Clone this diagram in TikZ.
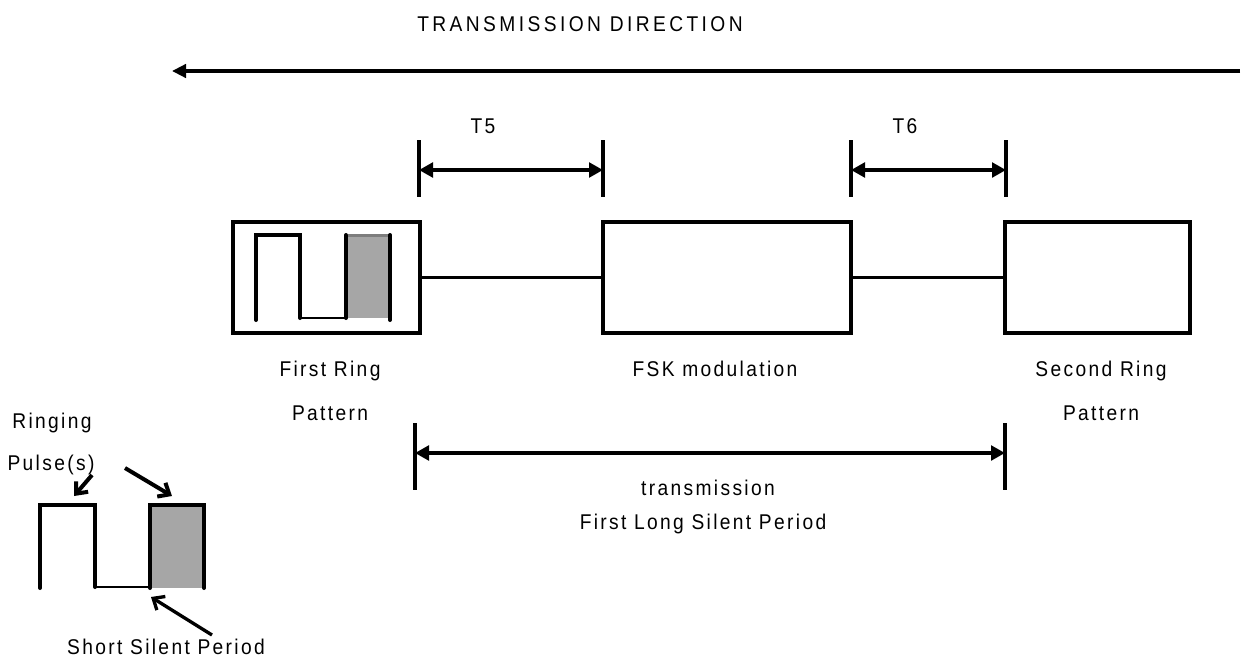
\documentclass[tikz,border=0pt]{standalone}
\usepackage{fontspec}
\setmainfont{Liberation Sans}[LetterSpace=11, FakeStretch=0.9]
\newfontfamily\titlefont{Liberation Sans}[LetterSpace=16, FakeStretch=0.9]
\usetikzlibrary{arrows.meta}
\definecolor{pulsegray}{RGB}{166,166,166}
\begin{document}
\begin{tikzpicture}[x=0.75pt,y=-0.75pt,
  lbl/.style={font=\fontsize{16}{19}\selectfont, anchor=base, inner sep=0pt},
  blk/.style={draw, line width=2.5pt, inner sep=0pt, minimum height=83.25pt},
  dimline/.style={line width=2.5pt, {Triangle[length=10.5pt,width=11pt]}-{Triangle[length=10.5pt,width=11pt]}},
  dirline/.style={line width=2.5pt, -{Triangle[length=10.5pt,width=10pt]}},
  tickline/.style={line width=2.5pt},
  link/.style={line width=2pt},
  pulse/.style={line width=3pt, line cap=round},
  pulselow/.style={line width=2pt},
  pointer/.style={line width=3pt, -{Straight Barb[length=7pt,width=12pt]}}
]
\useasboundingbox (0,0) rectangle (1244,657);

% title and direction arrow
\node[lbl] (title) at (580,31.7) {\titlefont TRANSMISSION DIRECTION};
\coordinate (dirR) at (1240,71);
\coordinate (dirL) at (172,71);
\draw[dirline] (dirR) -- (dirL);

% blocks
\node[blk, minimum width=140.25pt] (ring1) at (326.5,277.5) {};
\node[blk, minimum width=186pt] (fsk) at (727,277.5) {};
\node[blk, minimum width=138.75pt] (ring2) at (1097.5,277.5) {};
\draw[link] (ring1.east) -- (fsk.west);
\draw[link] (fsk.east) -- (ring2.west);

% T5
\draw[tickline] (419,140) -- (419,197);
\draw[tickline] (603,140) -- (603,197);
\coordinate (t5l) at (419,170);
\coordinate (t5r) at (603,170);
\draw[dimline] (t5l) -- (t5r);
\node[lbl] (t5) at (483,133) {T5};

% T6
\draw[tickline] (851,140) -- (851,197);
\draw[tickline] (1006,140) -- (1006,197);
\coordinate (t6l) at (851,170);
\coordinate (t6r) at (1006,170);
\draw[dimline] (t6l) -- (t6r);
\node[lbl] (t6) at (905,133) {T6};

% long silent period
\draw[tickline] (415,423) -- (415,490);
\draw[tickline] (1005,423) -- (1005,490);
\coordinate (lsl) at (415,453);
\coordinate (lsr) at (1005,453);
\draw[dimline] (lsl) -- (lsr);

% labels
\node[lbl] (fr1) at (330,376.5) {First Ring};
\node[lbl] (fr2) at (330,420) {Pattern};
\node[lbl] (fskl) at (715,376.5) {FSK modulation};
\node[lbl] (sr1) at (1101,376.5) {Second Ring};
\node[lbl] (sr2) at (1101,420) {Pattern};
\node[lbl] (tr1) at (708,495) {transmission};
\node[lbl] (tr2) at (703,529) {First Long Silent Period};

% pulse inside first ring box
\fill[pulsegray] (346,235) rectangle (390,318);
\draw[pulse] (256,320) -- (256,235) -- (300,235) -- (300,318);
\draw[pulselow] (300,318) -- (346,318);
\draw[pulse] (346,318) -- (346,235);
\draw[line width=2pt, draw=pulsegray!75!black] (347.5,235.5) -- (389,235.5);
\draw[pulse] (390,235) -- (390,320);

% legend pulses
\fill[pulsegray] (150,505) rectangle (204,588);
\draw[pulse] (40,588) -- (40,505) -- (95,505) -- (95,587);
\draw[pulselow] (95,587) -- (150,587);
\draw[pulse] (150,588) -- (150,505) -- (204,505) -- (204,588);

\node[lbl] (ringing) at (52,428) {Ringing};
\node[lbl] (pulses) at (51,470) {Pulse(s)};
\node[lbl] (short) at (166,654) {Short Silent Period};

\coordinate (p1s) at (92,475);
\coordinate (p1e) at (74,496);
\coordinate (p2s) at (125,468);
\coordinate (p2e) at (172,496);
\coordinate (sss) at (212,635);
\coordinate (sse) at (151,597);
\draw[pointer] (p1s) -- (p1e);
\draw[pointer] (p2s) -- (p2e);
\draw[pointer, line width=2.5pt] (sss) -- (sse);
\end{tikzpicture}
\end{document}
